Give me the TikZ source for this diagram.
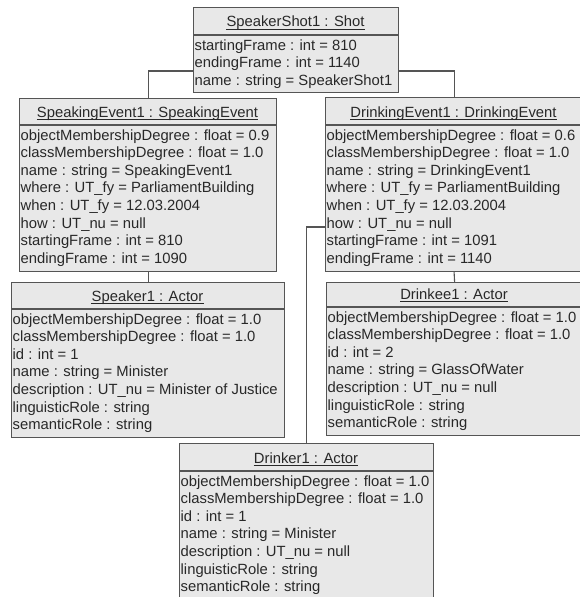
\documentclass[tikz,border=0pt]{standalone}
\usepackage{fontspec}
\setmainfont{Liberation Sans}
\definecolor{boxfill}{RGB}{232,232,232}
\definecolor{boxline}{RGB}{85,85,85}
\definecolor{inktext}{RGB}{40,40,40}
\newcommand\objfont{\fontsize{14.8}{17.6}\selectfont\color{inktext}}

% \objbox{name}{left}{top}{width}{height}{divider y}{header}{attribute rows}
\newcommand\objbox[8]{%
  \node[objframe, minimum width=#4pt, minimum height=#5pt] (#1) at (#2,#3) {};
  \draw[frameline] (#1.west |- 0,#6) -- (#1.east |- 0,#6);
  \node[hdrtext] (#1h) at ({#2+#4/2},{#6-8}) {#7};
  \draw[inktext, line width=0.7pt] ([yshift=-2pt]#1h.base west) -- ([yshift=-2pt]#1h.base east);
  \foreach \r [count=\i from 0] in {#8}
    \node[rowtext] at ({#2+1.5},{#6+15+17.6*\i}) {\r};
}

\begin{document}
\begin{tikzpicture}[x=1pt,y=-1pt,
  objframe/.style={draw=boxline, line width=1.2pt, fill=boxfill, inner sep=0pt, anchor=north west},
  frameline/.style={draw=boxline, line width=1.2pt},
  hdrtext/.style={inner sep=0pt, anchor=base, font=\objfont},
  rowtext/.style={inner sep=0pt, anchor=base west, font=\objfont},
  link/.style={draw=boxline, line width=1.1pt}]
\useasboundingbox (0,0) rectangle (580,597);
\fill[white] (0,0) rectangle (580,597);
\clip (0,0) rectangle (580,597);

\objbox{shot}{193}{7}{205}{85}{35}{SpeakerShot1 : Shot}%
  {startingFrame : int = 810, endingFrame : int = 1140, name : string = SpeakerShot1}

\objbox{speaking}{19}{98}{257}{173}{125}{SpeakingEvent1 : SpeakingEvent}%
  {objectMembershipDegree : float = 0.9, classMembershipDegree : float = 1.0,
   name : string = SpeakingEvent1, where : UT\_fy = ParliamentBuilding,
   when : UT\_fy = 12.03.2004, how : UT\_nu = null,
   startingFrame : int = 810, endingFrame : int = 1090}

\objbox{drinking}{325}{97}{257}{174}{125}{DrinkingEvent1 : DrinkingEvent}%
  {objectMembershipDegree : float = 0.6, classMembershipDegree : float = 1.0,
   name : string = DrinkingEvent1, where : UT\_fy = ParliamentBuilding,
   when : UT\_fy = 12.03.2004, how : UT\_nu = null,
   startingFrame : int = 1091, endingFrame : int = 1140}

\objbox{speaker}{11}{282}{273}{155}{309}{Speaker1 : Actor}%
  {objectMembershipDegree : float = 1.0, classMembershipDegree : float = 1.0,
   id : int = 1, name : string = Minister,
   description : UT\_nu = Minister of Justice,
   linguisticRole : string, semanticRole : string}

\objbox{drinkee}{326}{282}{256}{153}{307}{Drinkee1 : Actor}%
  {objectMembershipDegree : float = 1.0, classMembershipDegree : float = 1.0,
   id : int = 2, name : string = GlassOfWater,
   description : UT\_nu = null,
   linguisticRole : string, semanticRole : string}

\objbox{drinker}{179}{443}{254}{170}{471}{Drinker1 : Actor}%
  {objectMembershipDegree : float = 1.0, classMembershipDegree : float = 1.0,
   id : int = 1, name : string = Minister,
   description : UT\_nu = null,
   linguisticRole : string, semanticRole : string}

% links between the objects
\draw[link] (shot.west |- 0,71) -| (speaking.north);
\draw[link] (shot.east |- 0,71) -| (drinking.north);
\draw[link] (speaking.south) -- (speaker.north);
\draw[link] (drinking.south) -- (drinkee.north);
\draw[link] (drinking.west |- 0,227) -| (drinker.north);
\end{tikzpicture}
\end{document}
